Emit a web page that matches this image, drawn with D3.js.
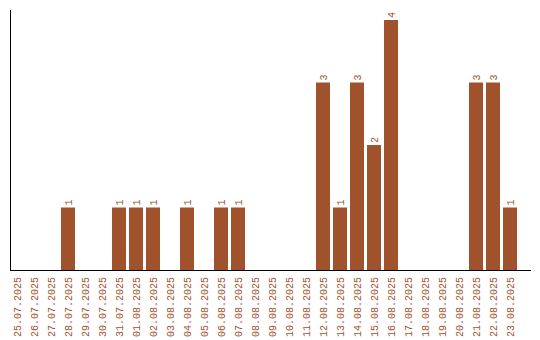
<!DOCTYPE html>
<html>
<head>
<meta charset="utf-8">
<script src="https://cdn.jsdelivr.net/npm/d3@7"></script>
<style>
  body { margin: 0; background: #fff; }
  text { font-family: "Liberation Mono", "DejaVu Sans Mono", monospace; font-size: 10px; fill: #a0522d; }
</style>
</head>
<body>
<div id="chart"></div>
<script>
// dates shown on the x axis (one band per day)
const dates = [
  '25.07.2025', '26.07.2025', '27.07.2025', '28.07.2025', '29.07.2025', '30.07.2025',
  '31.07.2025', '01.08.2025', '02.08.2025', '03.08.2025', '04.08.2025', '05.08.2025',
  '06.08.2025', '07.08.2025', '08.08.2025', '09.08.2025', '10.08.2025', '11.08.2025',
  '12.08.2025', '13.08.2025', '14.08.2025', '15.08.2025', '16.08.2025', '17.08.2025',
  '18.08.2025', '19.08.2025', '20.08.2025', '21.08.2025', '22.08.2025', '23.08.2025'
];
// count per day
const counts = [
  0, 0, 0, 1, 0, 0,
  1, 1, 1, 0, 1, 0,
  1, 1, 0, 0, 0, 0,
  3, 1, 3, 2, 4, 0,
  0, 0, 0, 3, 3, 1
];

const width = 540, height = 340;
const marginLeft = 10, baseY = 270, topY = 10;
const barColor = '#a0522d';

const svg = d3.select('#chart').append('svg')
  .attr('width', width)
  .attr('height', height);

const x = d3.scaleBand()
  .domain(dates)
  .range([marginLeft, 517])
  .paddingInner(3 / 17)
  .paddingOuter(0)
  .align(0);

const y = d3.scaleLinear()
  .domain([0, 4.16])
  .range([baseY, topY]);

const data = dates.map((d, i) => ({ date: d, value: counts[i] }));

// bars
svg.selectAll('rect.bar')
  .data(data.filter(d => d.value > 0))
  .join('rect')
  .attr('class', 'bar')
  .attr('x', d => x(d.date))
  .attr('y', d => y(d.value))
  .attr('width', x.bandwidth())
  .attr('height', d => y(0) - y(d.value))
  .attr('fill', barColor);

// value labels, rotated
svg.selectAll('text.val')
  .data(data.filter(d => d.value > 0))
  .join('text')
  .attr('class', 'val')
  .attr('transform', d => `translate(${x(d.date) + x.bandwidth() / 2 + 3.5},${y(d.value) - 2}) rotate(-90)`)
  .attr('text-anchor', 'start')
  .text(d => d.value);

// date labels, rotated
svg.selectAll('text.tick')
  .data(dates)
  .join('text')
  .attr('class', 'tick')
  .attr('transform', d => `translate(${x(d) + x.bandwidth() / 2 + 3.5},${baseY + 7}) rotate(-90)`)
  .attr('text-anchor', 'end')
  .text(d => d);

// axis lines
svg.append('line')
  .attr('x1', marginLeft + 0.5).attr('x2', marginLeft + 0.5)
  .attr('y1', y.range()[1]).attr('y2', y(0))
  .attr('stroke', '#000');
svg.append('line')
  .attr('x1', marginLeft).attr('x2', 531)
  .attr('y1', y(0) + 0.5).attr('y2', y(0) + 0.5)
  .attr('stroke', '#000');
</script>
</body>
</html>
